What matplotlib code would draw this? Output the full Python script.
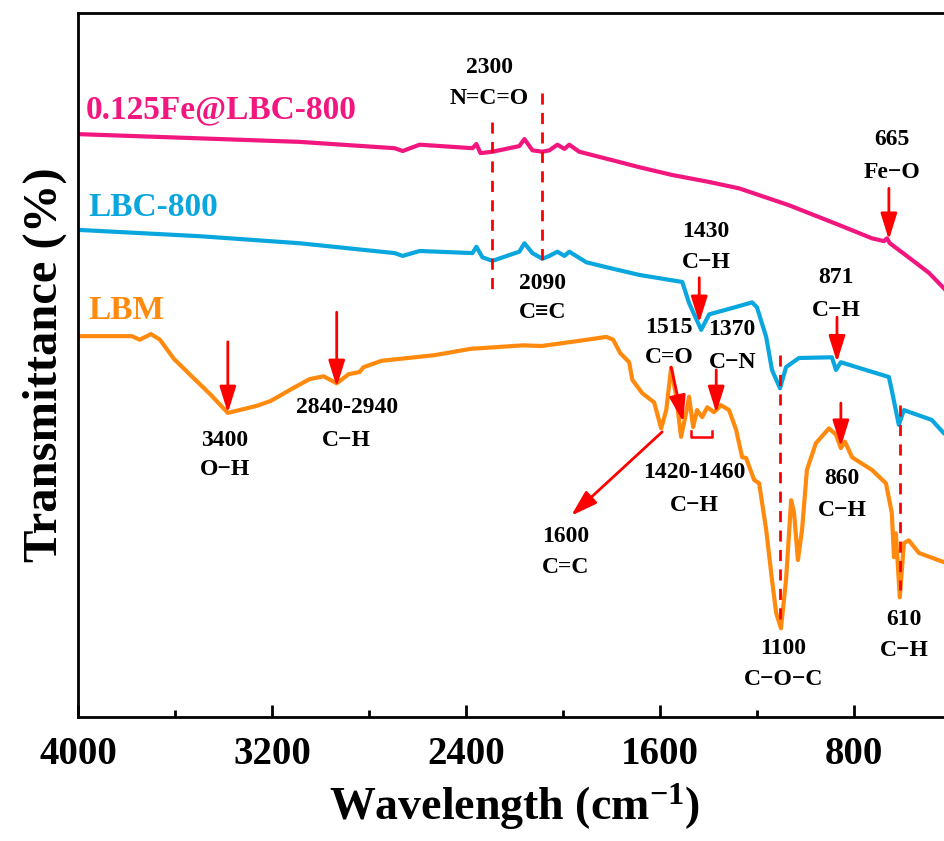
import numpy as np
import matplotlib
matplotlib.use("Agg")
from matplotlib import pyplot as plt
from matplotlib.ticker import MultipleLocator

plt.rcParams['font.family'] = ['Liberation Serif', 'DejaVu Serif']
plt.rcParams['font.weight'] = 'bold'
plt.rcParams['axes.labelweight'] = 'bold'
plt.rcParams['mathtext.fontset'] = 'custom'
plt.rcParams['mathtext.rm'] = 'Liberation Serif:bold'
plt.rcParams['mathtext.bf'] = 'Liberation Serif:bold'
plt.rcParams['mathtext.default'] = 'bf'

# FTIR spectra (wavenumber cm-1, transmittance a.u.)
wn_fe = [4000, 3498, 3086, 2694, 2661, 2591, 2373, 2357, 2340, 2291, 2180, 2159, 2126, 2085,
         2056, 2023, 1994, 1974, 1933, 1797, 1685, 1550, 1397, 1274, 1068, 862, 726, 676,
         664, 652, 586, 491, 429, 400]
t_fe = [82.8, 82.2, 81.7, 80.8, 80.4, 81.3, 80.8, 81.4, 80.1, 80.3, 81.1, 82.1, 80.5, 80.3,
        80.5, 81.3, 80.7, 81.3, 80.3, 79.1, 78.1, 77.0, 76.0, 75.1, 72.7, 69.9, 68.0, 67.6,
        68.0, 67.3, 65.6, 63.1, 60.9, 59.8]

wn_lbc = [4000, 3498, 3086, 2694, 2661, 2591, 2373, 2357, 2332, 2291, 2180, 2159, 2126, 2085,
          2056, 2023, 1994, 1974, 1904, 1809, 1685, 1508, 1480, 1430, 1397, 1302, 1220, 1200,
          1162, 1138, 1105, 1080, 1027, 891, 874, 854, 751, 656, 644, 615, 594, 479, 429, 400]
t_lbc = [69.2, 68.3, 67.3, 65.9, 65.5, 66.2, 65.9, 66.8, 65.3, 64.8, 66.1, 67.3, 65.9, 65.1,
         65.5, 66.1, 65.5, 66.1, 64.6, 63.8, 62.8, 61.8, 58.8, 55.0, 57.2, 58.1, 58.9, 58.2,
         54.0, 49.3, 46.7, 49.7, 51.0, 51.1, 49.3, 50.4, 49.3, 48.3, 46.4, 41.5, 43.6, 42.2,
         40.3, 39.6]

wn_lbm = [4000, 3778, 3745, 3699, 3662, 3605, 3531, 3456, 3382, 3263, 3205, 3119, 3045, 2987,
          2933, 2884, 2839, 2822, 2748, 2530, 2381, 2163, 2089, 1941, 1821, 1793, 1764, 1727,
          1714, 1673, 1624, 1595, 1574, 1554, 1533, 1513, 1492, 1480, 1463, 1447, 1426, 1405,
          1377, 1348, 1315, 1286, 1261, 1245, 1212, 1191, 1162, 1138, 1121, 1101, 1080, 1059,
          1047, 1031, 1014, 994, 957, 903, 874, 854, 837, 808, 726, 668, 644, 635, 627, 611,
          594, 574, 532, 429, 400]
t_lbm = [54.1, 54.1, 53.6, 54.4, 53.6, 50.9, 48.4, 45.9, 43.2, 44.2, 44.9, 46.6, 48.0, 48.4,
         47.4, 48.7, 49.0, 49.7, 50.6, 51.4, 52.3, 52.8, 52.7, 53.4, 54.0, 53.6, 51.7, 50.4,
         47.9, 46.0, 44.7, 41.0, 43.6, 49.6, 45.5, 39.8, 43.2, 45.5, 41.2, 43.6, 42.6, 44.0,
         43.3, 44.3, 43.6, 40.8, 36.9, 36.8, 33.7, 33.2, 26.6, 19.5, 14.8, 12.6, 19.5, 30.8,
         29.0, 22.3, 26.6, 35.1, 38.9, 41.0, 40.1, 38.2, 39.1, 36.9, 35.1, 33.2, 29.0, 22.7,
         26.1, 17.0, 24.7, 25.1, 23.3, 22.0, 21.4]

c_fe = '#F2167F'
c_lbc = '#0AA6DE'
c_lbm = '#FF8A0E'

fig = plt.figure(figsize=(9.45, 8.41), dpi=100)
ax = fig.add_axes([0.0825, 0.1474, 0.9238, 0.8371])

ax.plot(wn_fe, t_fe, color=c_fe, lw=3)
ax.plot(wn_lbc, t_lbc, color=c_lbc, lw=3)
ax.plot(wn_lbm, t_lbm, color=c_lbm, lw=3)

ax.set_xlim(4000, 400)
ax.set_ylim(0, 100)

# series names
ax.text(3967, 86.2, "0.125Fe@LBC-800", color=c_fe, fontsize=24, va='center', ha='left')
ax.text(3959, 72.4, "LBC-800", color=c_lbc, fontsize=24, va='center', ha='left')
ax.text(3959, 57.8, "LBM", color=c_lbm, fontsize=24, va='center', ha='left')

# dashed reference lines
dash = dict(color='red', lw=2, ls=(0, (4, 3)))
ax.plot([2291, 2291], [84.5, 60.2], **dash)
ax.plot([2085, 2085], [88.6, 64.5], **dash)
ax.plot([1105, 1105], [51.4, 13.1], **dash)
ax.plot([611, 611], [44.3, 18.0], **dash)

# arrows
arr = dict(arrowstyle='-|>,head_length=0.8,head_width=0.25', color='red', lw=2,
           mutation_scale=20, shrinkA=0, shrinkB=0)
arrows = [((3382, 53.3), (3382, 43.2)),
          ((2933, 57.5), (2933, 46.9)),
          ((656, 75.1), (656, 67.8)),
          ((1438, 62.4), (1438, 56.0)),
          ((870, 56.8), (870, 50.4)),
          ((1554, 49.7), (1504, 41.9)),
          ((1368, 49.3), (1368, 43.2)),
          ((1591, 40.5), (1966, 28.6)),
          ((854, 44.6), (854, 38.4))]
for start, end in arrows:
    ax.annotate("", xy=end, xytext=start, arrowprops=arr)

# bracket for 1420-1460
ax.plot([1471, 1471, 1385, 1385], [40.6, 39.8, 39.8, 40.6], color='red', lw=1.8)

# peak labels
fs = 17
labels = [(2303, 92.2, "2300"), (2303, 87.9, "N=C=O"),
          (2085, 61.6, "2090"), (2085, 57.5, "C≡C"),
          (1410, 68.9, "1430"), (1410, 64.5, "C−H"),
          (644, 82.0, "665"), (644, 77.3, "Fe−O"),
          (874, 62.4, "871"), (874, 57.8, "C−H"),
          (1562, 55.4, "1515"), (1562, 51.0, "C=O"),
          (1302, 55.0, "1370"), (1302, 50.4, "C−N"),
          (3395, 39.3, "3400"), (3395, 35.1, "O−H"),
          (2892, 43.9, "2840-2940"), (2892, 39.3, "C−H"),
          (1459, 34.8, "1420-1460"), (1459, 30.1, "C−H"),
          (1990, 25.6, "1600"), (1990, 21.2, "C=C"),
          (849, 33.9, "860"), (849, 29.3, "C−H"),
          (1092, 9.8, "1100"), (1092, 5.3, "C−O−C"),
          (594, 13.8, "610"), (594, 9.5, "C−H")]
for x, y, s in labels:
    ax.text(x, y, s, fontsize=fs, ha='center', va='center')

ax.xaxis.set_major_locator(MultipleLocator(800))
ax.xaxis.set_minor_locator(MultipleLocator(400))
ax.tick_params(axis='x', which='major', direction='in', length=9, width=2, labelsize=28, pad=14)
ax.tick_params(axis='x', which='minor', direction='in', length=5, width=2)
ax.set_yticks([])
for sp in ax.spines.values():
    sp.set_linewidth(2)

ax.set_xlabel("Wavelength (cm$^{-1}$)", fontsize=33, fontweight='bold', labelpad=6)
ax.set_ylabel("Transmittance (%)", fontsize=35, fontweight='bold', labelpad=8)

fig.savefig("out.png", dpi=100)
